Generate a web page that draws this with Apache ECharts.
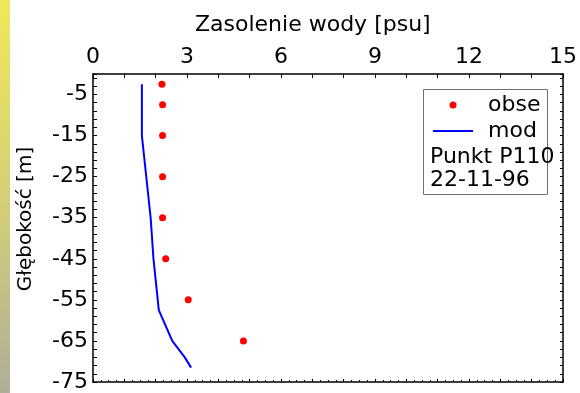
<!DOCTYPE html>
<html>
<head>
<meta charset="utf-8">
<script src="https://cdn.jsdelivr.net/npm/echarts@6/dist/echarts.min.js"></script>
<style>
html,body{margin:0;padding:0;background:#fff;}
#c{width:580px;height:393px;}
</style>
</head>
<body>
<div id="c"></div>
<script>
// Observations
const obsDepth = [-2.5, -7.5, -15, -25, -35, -45, -55, -65];
const obsSal   = [2.2, 2.22, 2.22, 2.22, 2.22, 2.32, 3.04, 4.8];
// Model
const modDepth = [-2.5, -15, -35, -45, -57.5, -65, -69, -71.5];
const modSal   = [1.56, 1.56, 1.84, 1.93, 2.1, 2.53, 2.93, 3.13];

const xTicks = [0, 3, 6, 9, 12, 15];
const yTicks = [-75, -65, -55, -45, -35, -25, -15, -5];

const FONT = 'DejaVu Sans';
const chart = echarts.init(document.getElementById('c'), null, {renderer: 'canvas'});

const obsData = obsDepth.map((d, i) => [obsSal[i], d]);
const modData = modDepth.map((d, i) => [modSal[i], d]);

chart.setOption({
  animation: false,
  backgroundColor: '#fff',
  title: {
    text: 'Zasolenie wody [psu]',
    left: 190, top: 9,
    textStyle: {fontFamily: FONT, fontSize: 22, fontWeight: 'normal', color: '#000'}
  },
  grid: {left: 93, top: 74, right: 17, bottom: 11, containLabel: false},
  legend: {
    left: 433, top: 94, orient: 'vertical', padding: 0,
    itemWidth: 40, itemHeight: 7, itemGap: 4, symbolKeepAspect: true,
    textStyle: {fontFamily: FONT, fontSize: 22, color: '#000', lineHeight: 22, padding: [0, 0, 0, 10]},
    data: [
      {name: 'obse', icon: 'circle'},
      {name: 'mod', icon: 'path://M0,0L20,0L20,1L0,1Z'}
    ]
  },
  graphic: [
    {type: 'rect', z: 0, left: 0, top: 0, shape: {width: 10, height: 393},
     style: {fill: new echarts.graphic.LinearGradient(0, 0, 0, 1, [
       {offset: 0, color: '#eee85a'}, {offset: 0.5, color: '#d4d076'}, {offset: 1, color: '#aeae98'}])}},
    {type: 'rect', z: 1, shape: {x: 423.5, y: 89.5, width: 124, height: 105},
     style: {fill: '#fff', stroke: '#707070', lineWidth: 1}},
    {type: 'text', z: 5, left: 430, top: 146,
     style: {text: 'Punkt P110', fontFamily: FONT, fontSize: 22, fill: '#000'}},
    {type: 'text', z: 5, left: 430, top: 169,
     style: {text: '22-11-96', fontFamily: FONT, fontSize: 22, fill: '#000'}},
    {type: 'text', z: 5, x: 26, y: 219, rotation: Math.PI / 2,
     style: {text: 'Głębokość [m]', fontFamily: FONT, fontSize: 20, fill: '#000',
       align: 'center', verticalAlign: 'middle'}}
  ],
  xAxis: [
    {type: 'value', position: 'top', min: 0, max: 15, interval: 1,
     axisLine: {show: true, lineStyle: {color: '#000', width: 1.5}},
     axisTick: {show: true, inside: true, length: 4, lineStyle: {color: '#000'}},
     axisLabel: {margin: 6, fontFamily: FONT, fontSize: 22, color: '#000',
       formatter: v => xTicks.indexOf(v) >= 0 ? String(v) : ''},
     splitLine: {show: false}},
    {type: 'value', position: 'bottom', min: 0, max: 15, interval: 1,
     axisLine: {show: true, lineStyle: {color: '#000', width: 1.5}},
     axisTick: {show: true, inside: true, length: 3, lineStyle: {color: '#000'}},
     minorTick: {show: true, splitNumber: 4, length: 2, lineStyle: {color: '#000'}},
     axisLabel: {show: false}, splitLine: {show: false}}
  ],
  yAxis: [
    {type: 'value', position: 'left', min: -75, max: 0, interval: 5,
     axisLine: {show: true, lineStyle: {color: '#000', width: 1.5}},
     axisTick: {show: false},
     axisLabel: {margin: 5, fontFamily: FONT, fontSize: 22, color: '#000',
       formatter: v => yTicks.indexOf(v) >= 0 ? String(v) : ''},
     splitLine: {show: false}},
    {type: 'value', position: 'left', min: 0, max: 75, interval: 2,
     axisLine: {show: false}, axisLabel: {show: false}, splitLine: {show: false},
     axisTick: {show: true, inside: true, length: 4, lineStyle: {color: '#000'}}},
    {type: 'value', position: 'right', min: 0, max: 75, interval: 2,
     axisLine: {show: true, lineStyle: {color: '#000', width: 1.5}},
     axisLabel: {show: false}, splitLine: {show: false},
     axisTick: {show: true, inside: true, length: 3, lineStyle: {color: '#000'}}}
  ],
  series: [
    {name: 'obse', type: 'scatter', xAxisIndex: 0, yAxisIndex: 0, symbol: 'circle', symbolSize: 7,
     itemStyle: {color: '#ff0000', opacity: 1}, data: obsData, z: 3},
    {name: 'mod', type: 'line', xAxisIndex: 0, yAxisIndex: 0, showSymbol: false, symbol: 'none',
     lineStyle: {color: '#0000ff', width: 2}, itemStyle: {color: '#0000ff'}, data: modData, z: 2}
  ]
});
</script>
</body>
</html>
